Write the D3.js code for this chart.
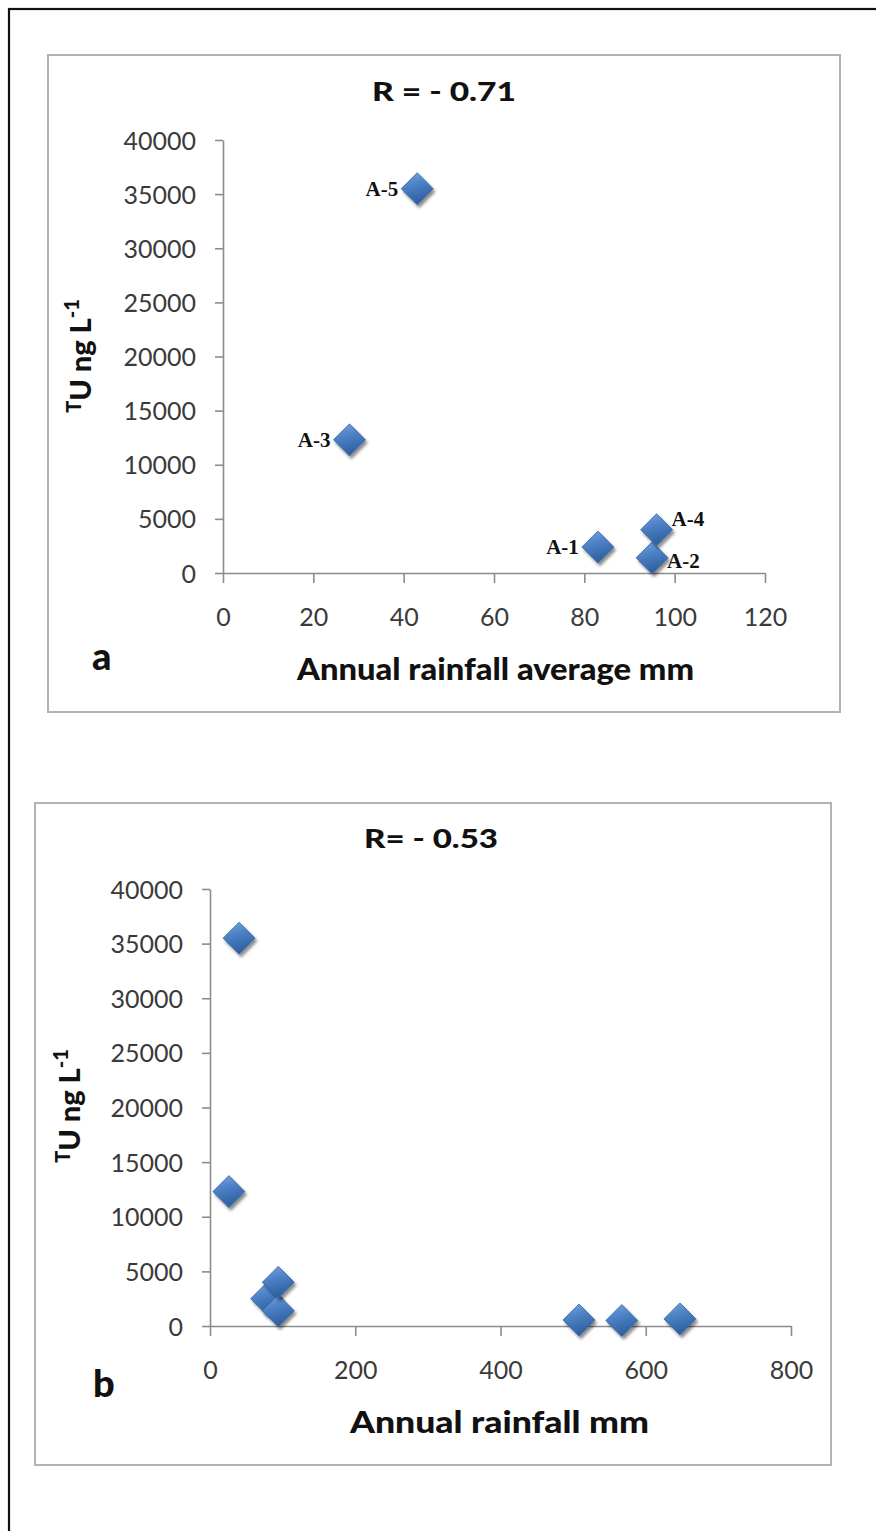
<!DOCTYPE html>
<html>
<head>
<meta charset="utf-8">
<script src="https://cdn.jsdelivr.net/npm/d3@7"></script>
<style>
  html, body { margin: 0; padding: 0; background: #fff; }
  svg { display: block; }
</style>
</head>
<body>
<div id="chart"></div>
<script>
// Panel a: total uranium vs. annual rainfall average, by site
const sitesA = ["A-1", "A-2", "A-3", "A-4", "A-5"];
const rainAvgA = [83, 95, 28, 96, 43];
const uraniumA = [2400, 1400, 12300, 4000, 35500];

// Panel b: total uranium vs. annual rainfall (all stations)
const rainB = [78, 94, 26, 94, 40, 508, 567, 647];
const uraniumB = [2500, 1400, 12300, 4000, 35500, 550, 500, 650];

// Axis ticks
const xTicksA = [0, 20, 40, 60, 80, 100, 120];
const xTicksB = [0, 200, 400, 600, 800];
const yTicks = [0, 5000, 10000, 15000, 20000, 25000, 30000, 35000, 40000];

const titleA = "R = - 0.71";
const titleB = "R= - 0.53";
const xLabelA = "Annual rainfall average mm";
const xLabelB = "Annual rainfall mm";

// where each site label sits relative to its marker
const labelPlacement = { "A-1": "left", "A-2": "right-low", "A-3": "left", "A-4": "right-high", "A-5": "left" };

const W = 876, H = 1531;
const svg = d3.select("#chart").append("svg").attr("width", W).attr("height", H);

const defs = svg.append("defs");
const grad = defs.append("linearGradient").attr("id", "diamondFill")
  .attr("x1", "0").attr("y1", "0").attr("x2", "0.3").attr("y2", "1");
grad.append("stop").attr("offset", "0%").attr("stop-color", "#7aa6dd");
grad.append("stop").attr("offset", "45%").attr("stop-color", "#4d82c6");
grad.append("stop").attr("offset", "100%").attr("stop-color", "#2f5f9f");
const shadow = defs.append("filter").attr("id", "dropShadow")
  .attr("x", "-50%").attr("y", "-50%").attr("width", "200%").attr("height", "200%");
shadow.append("feDropShadow").attr("dx", 2).attr("dy", 3).attr("stdDeviation", 1.6)
  .attr("flood-color", "#000").attr("flood-opacity", 0.45);

// outer frame
svg.append("rect").attr("x", 9).attr("y", 9).attr("width", 900).attr("height", 1600)
  .attr("fill", "none").attr("stroke", "#111").attr("stroke-width", 2.2);

const sansFont = "Lato, 'Open Sans', sans-serif";

function drawPanel(cfg) {
  const g = svg.append("g");
  g.append("rect").attr("x", cfg.box[0]).attr("y", cfg.box[1])
    .attr("width", cfg.box[2] - cfg.box[0]).attr("height", cfg.box[3] - cfg.box[1])
    .attr("fill", "#fff").attr("stroke", "#b3b3b3").attr("stroke-width", 2);

  const x = d3.scaleLinear().domain(cfg.xDomain).range(cfg.xRange);
  const y = d3.scaleLinear().domain([0, 40000]).range(cfg.yRange);

  const yAxis = g.append("g").attr("transform", `translate(${cfg.xRange[0]},0)`)
    .call(d3.axisLeft(y).tickValues(yTicks).tickSize(8).tickSizeOuter(0).tickPadding(19).tickFormat(d3.format("d")));
  const xAxis = g.append("g").attr("transform", `translate(0,${cfg.yRange[0]})`)
    .call(d3.axisBottom(x).tickValues(cfg.xTicks).tickSize(10).tickSizeOuter(0).tickPadding(34).tickFormat(d3.format("d")));
  [xAxis, yAxis].forEach(ax => {
    ax.select(".domain").attr("stroke", "#8c8c8c").attr("stroke-width", 1.6);
    ax.selectAll(".tick line").attr("stroke", "#8c8c8c").attr("stroke-width", 1.6);
    ax.selectAll(".tick text").attr("font-family", sansFont).attr("font-size", 25).attr("fill", "#3a3a3a");
  });
  yAxis.selectAll(".tick text").attr("dy", "0.36em");
  xAxis.selectAll(".tick text").attr("dy", "0.36em");

  // chart title
  g.append("text").attr("x", cfg.title.x).attr("y", cfg.title.y)
    .attr("font-family", sansFont).attr("font-weight", "900").attr("font-size", 27)
    .attr("textLength", cfg.title.w).attr("lengthAdjust", "spacingAndGlyphs")
    .attr("fill", "#111").text(cfg.title.text);

  // x axis title
  g.append("text").attr("x", cfg.xLabel.x).attr("y", cfg.xLabel.y)
    .attr("font-family", sansFont).attr("font-weight", "900").attr("font-size", 30)
    .attr("textLength", cfg.xLabel.w).attr("lengthAdjust", "spacingAndGlyphs")
    .attr("fill", "#111").text(cfg.xLabel.text);

  // y axis title: superscript T, U ng L, superscript -1
  const yt = g.append("text").attr("transform", `translate(${cfg.yLabel.x},${cfg.yLabel.y}) rotate(-90)`)
    .attr("text-anchor", "middle")
    .attr("font-family", sansFont).attr("font-weight", "900").attr("font-size", 29).attr("fill", "#111");
  yt.append("tspan").attr("font-size", 20).attr("dy", -10).text("T");
  yt.append("tspan").attr("dy", 10).text("U ng L");
  yt.append("tspan").attr("font-size", 20).attr("dy", -12).text("-1");

  // panel letter
  g.append("text").attr("x", cfg.letter.x).attr("y", cfg.letter.y)
    .attr("font-family", sansFont).attr("font-weight", "900").attr("font-size", 38)
    .attr("fill", "#111").text(cfg.letter.text);

  const pts = cfg.xs.map((v, i) => ({ x: v, y: cfg.ys[i], name: cfg.names ? cfg.names[i] : null }));
  const s = 16;
  g.append("g").selectAll("path").data(pts).join("path")
    .attr("d", `M0,${-s}L${s},0L0,${s}L${-s},0Z`)
    .attr("transform", d => `translate(${x(d.x)},${y(d.y)})`)
    .attr("fill", "url(#diamondFill)").attr("stroke", "#3566a6").attr("stroke-width", 0.8)
    .attr("filter", "url(#dropShadow)");

  if (cfg.names) {
    g.append("g").selectAll("text").data(pts).join("text")
      .attr("font-family", "'Liberation Serif', 'Times New Roman', serif").attr("font-weight", "bold")
      .attr("font-size", 21).attr("fill", "#111")
      .attr("text-anchor", d => labelPlacement[d.name] === "left" ? "end" : "start")
      .attr("x", d => x(d.x) + (labelPlacement[d.name] === "left" ? -19 : 15))
      .attr("y", d => {
        const p = labelPlacement[d.name];
        const base = y(d.y) + 7;
        return p === "right-high" ? base - 11 : p === "right-low" ? base + 3 : base;
      })
      .text(d => d.name);
  }
}

drawPanel({
  box: [48, 55, 840, 712],
  xDomain: [0, 120], xRange: [223, 765], yRange: [573, 140], xTicks: xTicksA,
  xs: rainAvgA, ys: uraniumA, names: sitesA,
  title: { text: titleA, x: 372, y: 101, w: 144 },
  xLabel: { text: xLabelA, x: 297, y: 680, w: 397 },
  yLabel: { x: 91, y: 356 },
  letter: { text: "a", x: 92, y: 670 }
});

drawPanel({
  box: [35, 803, 831, 1465],
  xDomain: [0, 800], xRange: [210, 791], yRange: [1326, 889], xTicks: xTicksB,
  xs: rainB, ys: uraniumB, names: null,
  title: { text: titleB, x: 364, y: 848, w: 134 },
  xLabel: { text: xLabelB, x: 350, y: 1433, w: 299 },
  yLabel: { x: 80, y: 1106 },
  letter: { text: "b", x: 93, y: 1397 }
});
</script>
</body>
</html>
